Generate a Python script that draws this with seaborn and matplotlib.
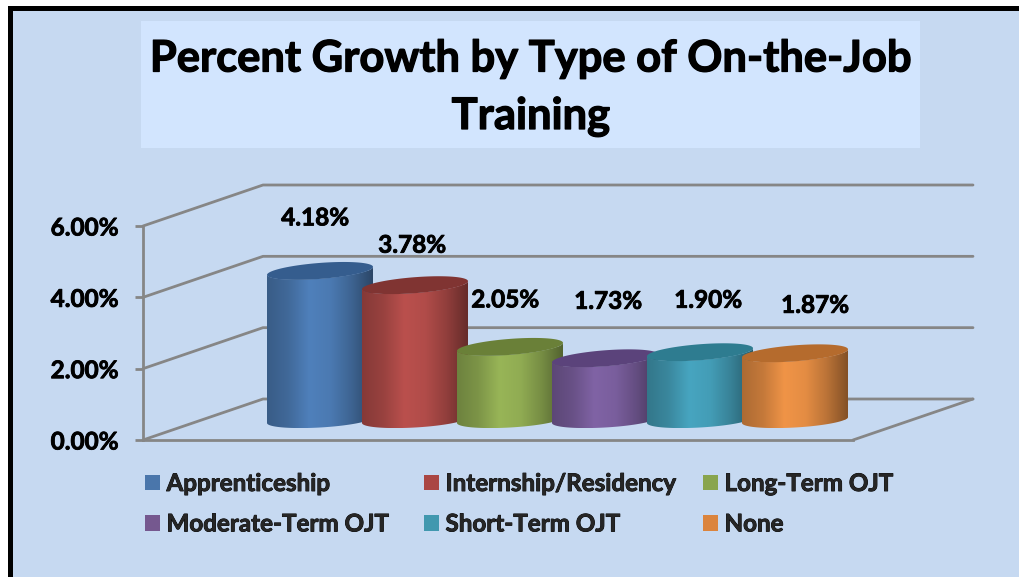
import numpy as np
import pandas as pd
import matplotlib
matplotlib.use("Agg")
import matplotlib.pyplot as plt
import matplotlib.patheffects as pe
from matplotlib.colors import LinearSegmentedColormap, to_rgb
from matplotlib.patches import Patch, Polygon, Rectangle
import seaborn as sns

# ---- data ----
categories = ["Apprenticeship", "Internship/Residency", "Long-Term OJT",
              "Moderate-Term OJT", "Short-Term OJT", "None"]
growth = [4.18, 3.78, 2.05, 1.73, 1.90, 1.87]
value_labels = ["4.18%", "3.78%", "2.05%", "1.73%", "1.90%", "1.87%"]
y_ticks = [0, 2, 4, 6]
y_tick_labels = ["0.00%", "2.00%", "4.00%", "6.00%"]
title_text = "Percent Growth by Type of On-the-Job\nTraining"

# ---- styles ----
legend_colors = ["#4A76AB", "#AA4643", "#89A54E", "#75588F", "#4198AF", "#DB843D"]
body_colors = ["#4F80BB", "#BA504D", "#98B557", "#8063A5", "#47A5C0", "#F09447"]
top_colors = ["#355D8E", "#803432", "#6A8038", "#5B437B", "#2E7C90", "#B56B2D"]
GRID = "#868686"
PANEL = "#C6D9F1"
TITLE_BOX = "#D2E5FE"
EMBOLDEN = [pe.withStroke(linewidth=0.6, foreground="black")]
EMBOLDEN_BIG = [pe.withStroke(linewidth=0.9, foreground="black")]

W, H = 1019, 577
sns.set_theme(style="white")
plt.rcParams["font.family"] = ["Lato", "DejaVu Sans"]
plt.rcParams["font.weight"] = "bold"

fig = plt.figure(figsize=(W / 100, H / 100), dpi=100, facecolor="white")


def fx(px):
    return px / W


def fy(py):
    return 1 - py / H


def fig_rect(x0, y0, x1, y1, color, z):
    fig.add_artist(Rectangle((fx(x0), fy(y1)), fx(x1) - fx(x0), fy(y0) - fy(y1),
                             transform=fig.transFigure, facecolor=color,
                             edgecolor="none", zorder=z))


fig_rect(8, 6, W, H, "black", -3)
fig_rect(13, 11, W, H, PANEL, -2)
fig_rect(141, 21, 920, 148, TITLE_BOX, -1)

# Front plane of the pseudo-3D box
LEFT, RIGHT, TOP, BOTTOM = 143, 853, 226, 440
ax = fig.add_axes([fx(LEFT), fy(BOTTOM), fx(RIGHT) - fx(LEFT), fy(TOP) - fy(BOTTOM)])
ax.patch.set_alpha(0)

SPACING = 95.0                  # px per category
PX_Y = (BOTTOM - TOP) / 6.0     # px per percent
first_center = 320.0
x0_data = (LEFT - first_center) / SPACING
x1_data = (RIGHT - first_center) / SPACING
depth_x = 120 / SPACING
depth_y = 41 / PX_Y
base = 20 / PX_Y                # cylinders stand inside the floor
bar_w = 106 / SPACING

df = pd.DataFrame({"category": categories, "growth": growth})
sns.barplot(data=df, x="category", y="growth", hue="category", order=categories,
            hue_order=categories, palette=legend_colors, dodge=False, width=bar_w,
            bottom=base, legend=False, ax=ax, saturation=1, linewidth=0)

ax.set_xlim(x0_data, x1_data)
ax.set_ylim(0, 6)
ax.set_xlabel("")
ax.set_ylabel("")
ax.set_xticks([])
ax.set_yticks(y_ticks)
ax.set_yticklabels(y_tick_labels, fontsize=17.5, fontweight="bold", color="black")
for lab in ax.get_yticklabels():
    lab.set_path_effects(EMBOLDEN)
ax.tick_params(axis="y", length=6, width=2, color=GRID, pad=12, left=True)
ax.grid(False)
for side in ["top", "right"]:
    ax.spines[side].set_visible(False)
for side in ["left", "bottom"]:
    ax.spines[side].set_color(GRID)
    ax.spines[side].set_linewidth(2)

# Back wall and side wall lines, from the value axis
line_kw = dict(color=GRID, lw=2, clip_on=False, zorder=1, solid_capstyle="round")
for t in y_ticks:
    ax.plot([x0_data, x0_data + depth_x, x1_data + depth_x],
            [t, t + depth_y, t + depth_y], **line_kw)
ax.plot([x1_data, x1_data + depth_x], [0, depth_y], **line_kw)

# Cylinders: the seaborn bars are clipped to a body outline and shaded
theta = np.linspace(0, np.pi, 60)
bars = sorted(ax.patches, key=lambda p: p.get_x())
for i, bar in enumerate(bars):
    x, w = bar.get_x(), bar.get_width()
    y_bot, y_top = bar.get_y(), bar.get_y() + bar.get_height()
    xs = x + w / 2 - (w / 2) * np.cos(theta)
    ct = np.cos(theta)
    st = np.sin(theta)
    # front arcs, left to right, tilted up toward the right
    top_front = y_top + (-4.0 * ct - 8.0 * st) / PX_Y
    bot_front = y_bot + (-3.0 * ct - 7.5 * st) / PX_Y
    top_back = y_top + (-4.0 * ct + 8.0 * st) / PX_Y
    z = 3 + 2 * i
    body = np.r_[np.c_[xs, bot_front], np.c_[xs[::-1], top_front[::-1]]]
    lid = np.r_[np.c_[xs, top_front], np.c_[xs[::-1], top_back[::-1]]]
    body_poly = Polygon(body, closed=True, transform=ax.transData,
                        facecolor="none", edgecolor="none", clip_on=False)
    ax.add_patch(body_poly)
    bar.set_zorder(z - 1)
    bar.set_clip_path(body_poly.get_path(), ax.transData)

    c = np.array(to_rgb(body_colors[i]))
    cmap = LinearSegmentedColormap.from_list(
        "cyl", [c * 0.72, c * 0.82, c, c * 0.95, c * 0.78, c * 0.55])
    grad = np.linspace(0, 1, 200)[None, :]
    ymin, ymax = body[:, 1].min(), body[:, 1].max()
    im = ax.imshow(grad, cmap=cmap, aspect="auto", extent=(x, x + w, ymin, ymax),
                   interpolation="bilinear", zorder=z, clip_on=True)
    im.set_clip_path(body_poly.get_path(), ax.transData)
    ax.add_patch(Polygon(lid, closed=True, facecolor=top_colors[i], edgecolor="none",
                         zorder=z + 0.5, clip_on=False))

ax.set_xlim(x0_data, x1_data)
ax.set_ylim(0, 6)

# Data labels: offsets in pixels from the value position
label_dx = [-5, -3, -5, 3, 8, 20]
label_dy = [73, 60, 67, 77, 72, 68]
for i, (v, txt) in enumerate(zip(growth, value_labels)):
    ax.annotate(txt, xy=(i, v), xytext=(label_dx[i] * 0.72, label_dy[i] * 0.72),
                textcoords="offset points", ha="center", va="center", fontsize=17.5,
                fontweight="bold", color="black", annotation_clip=False, zorder=30,
                path_effects=EMBOLDEN)

# Title
fig.text(fx(531), fy(87.5), title_text, ha="center", va="center", fontsize=31.3,
         fontweight="bold", color="black", linespacing=1.53, path_effects=EMBOLDEN_BIG)

# Legend: one block per column
columns = [(0, 3, 145), (1, 4, 424), (2, 5, 703)]
fs = 17.4
for a, b, px in columns:
    leg = fig.legend(
        handles=[Patch(facecolor=legend_colors[a], edgecolor="none", label=categories[a]),
                 Patch(facecolor=legend_colors[b], edgecolor="none", label=categories[b])],
        loc="upper left", bbox_to_anchor=(fx(px), fy(472)), frameon=False,
        borderaxespad=0, borderpad=0, ncol=1,
        handlelength=15 * 0.72 / fs, handleheight=15 * 0.72 / fs,
        handletextpad=6.5 * 0.72 / fs, labelspacing=0.72,
        prop={"weight": "bold", "size": fs})
    for t in leg.get_texts():
        t.set_path_effects(EMBOLDEN)

fig.savefig("out.png", dpi=100, facecolor="white")
